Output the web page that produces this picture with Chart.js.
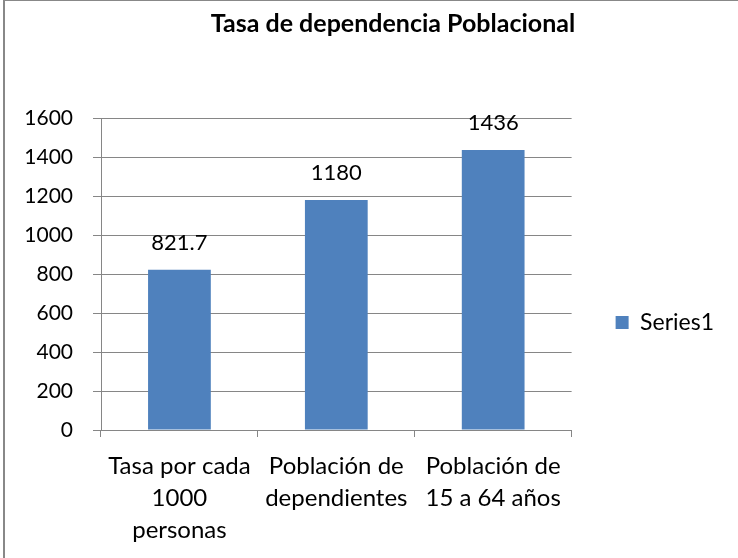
<!DOCTYPE html>
<html lang="es">
<head>
<meta charset="UTF-8">
<title>Tasa de dependencia Poblacional</title>
<script src="https://cdn.jsdelivr.net/npm/chart.js"></script>
<style>
    body {
        margin: 0;
        width: 738px;
        height: 558px;
        overflow: hidden;
        background: #fff;
        position: relative;
    }
    /* the original chart is larger than the picture, only left/top edges show */
    .frame {
        position: absolute;
        left: 3px;
        top: -1px;
        width: 820px;
        height: 700px;
        border: 2px solid #888;
        pointer-events: none;
    }
    #chart {
        position: absolute;
        left: 0;
        top: 0;
    }
</style>
</head>
<body>
<canvas id="chart" width="786" height="645"></canvas>
<div class="frame"></div>

<script>
// data
const categories = [
    ['Tasa por cada', '1000', 'personas'],
    ['Población de', 'dependientes'],
    ['Población de', '15 a 64 años']
];
const series1 = [821.7, 1180, 1436];
const seriesName = 'Series1';
const yTicks = [0, 200, 400, 600, 800, 1000, 1200, 1400, 1600];

const FONT = 'Lato, "Open Sans", sans-serif';
const AXIS = '#868686';

// value labels above the bars
const valueLabels = {
    id: 'valueLabels',
    afterDatasetsDraw(chart) {
        const ctx = chart.ctx;
        const meta = chart.getDatasetMeta(0);
        ctx.save();
        ctx.font = '22px ' + FONT;
        ctx.fillStyle = '#000';
        ctx.textAlign = 'center';
        ctx.textBaseline = 'middle';
        meta.data.forEach((bar, i) => {
            ctx.fillText(String(series1[i]), bar.x, bar.y - 27);
        });
        ctx.restore();
    }
};

// give the legend some empty room on its right so the title stays centred on the whole chart
const legendRoom = {
    id: 'legendRoom',
    beforeLayout(chart) {
        const lg = chart.legend;
        if (!lg || lg._roomDone) return;
        const fit = lg.fit;
        lg.fit = function () {
            fit.call(this);
            this.width += 62;
        };
        lg._roomDone = true;
    }
};

new Chart(document.getElementById('chart'), {
    type: 'bar',
    data: {
        labels: categories,
        datasets: [{
            label: seriesName,
            data: series1,
            backgroundColor: '#4F81BD',
            borderWidth: 0,
            barPercentage: 0.4,
            categoryPercentage: 1
        }]
    },
    options: {
        responsive: false,
        animation: false,
        layout: { padding: 0 },
        scales: {
            x: {
                afterFit(scale) { scale.height = 215; },
                grid: {
                    offset: true,
                    drawOnChartArea: false,
                    tickLength: 7,
                    color: AXIS
                },
                border: { color: AXIS, width: 1 },
                ticks: {
                    color: '#000',
                    font: { family: FONT, size: 24, lineHeight: 1.333 },
                    padding: 13,
                    maxRotation: 0,
                    autoSkip: false
                }
            },
            y: {
                min: 0,
                max: 1600,
                afterFit(scale) { scale.width = 101; },
                afterBuildTicks(scale) { scale.ticks = yTicks.map(v => ({ value: v })); },
                grid: { color: AXIS, tickLength: 8 },
                border: { color: AXIS, width: 1 },
                ticks: {
                    color: '#000',
                    font: { family: FONT, size: 21 },
                    padding: 20,
                    callback: v => String(v)
                }
            }
        },
        plugins: {
            title: {
                display: true,
                text: 'Tasa de dependencia Poblacional',
                color: '#000',
                font: { family: FONT, size: 25, weight: 'bold', lineHeight: 1.2 },
                padding: { top: 9, bottom: 79 }
            },
            legend: {
                position: 'right',
                labels: {
                    color: '#000',
                    font: { family: FONT, size: 23 },
                    boxWidth: 13,
                    boxHeight: 13,
                    padding: 44
                }
            },
            tooltip: { enabled: false }
        }
    },
    plugins: [valueLabels, legendRoom]
});
</script>
</body>
</html>
